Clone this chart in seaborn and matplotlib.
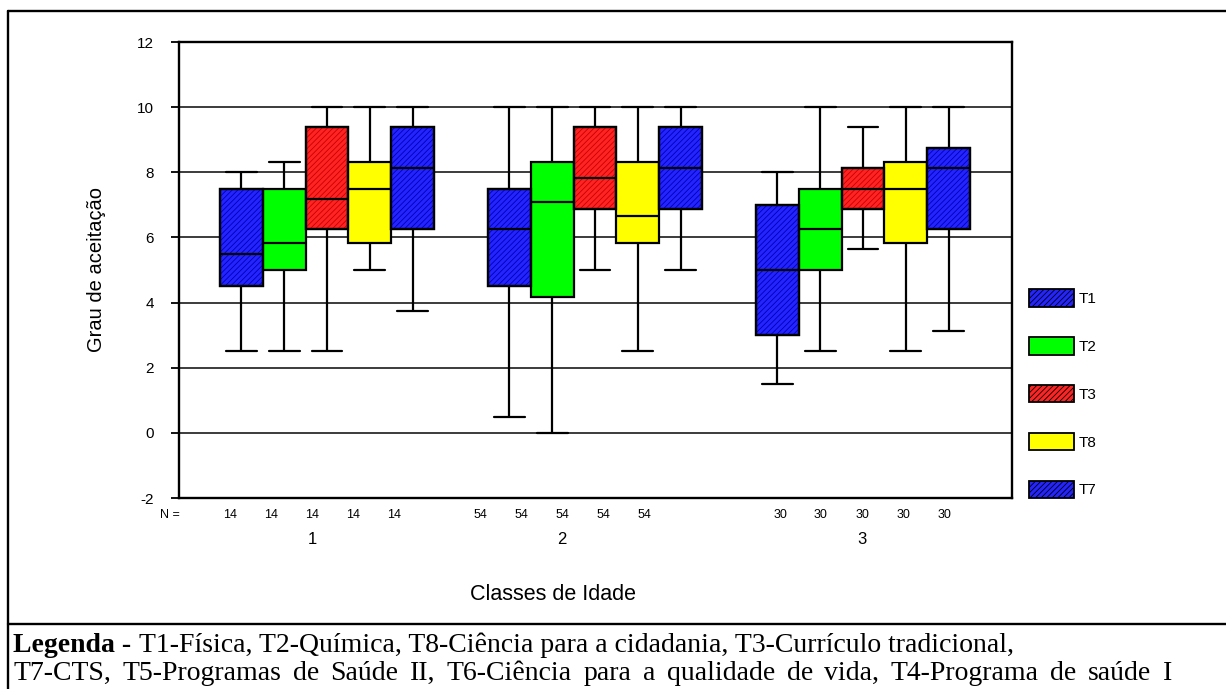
import numpy as np
import pandas as pd
import matplotlib
matplotlib.use("Agg")
import matplotlib.pyplot as plt
import seaborn as sns
from matplotlib.patches import Patch
from matplotlib.lines import Line2D

# ---------------- data ----------------
treatments = ["T1", "T2", "T3", "T8", "T7"]
age_classes = ["1", "2", "3"]
n_counts = [14, 54, 30]

# five-number summaries per treatment, one value per age class
t1_low = [2.5, 0.5, 1.5]
t1_q1 = [4.5, 4.5, 3.0]
t1_med = [5.5, 6.25, 5.0]
t1_q3 = [7.5, 7.5, 7.0]
t1_high = [8.0, 10.0, 8.0]

t2_low = [2.5, 0.0, 2.5]
t2_q1 = [5.0, 4.17, 5.0]
t2_med = [5.83, 7.08, 6.25]
t2_q3 = [7.5, 8.33, 7.5]
t2_high = [8.33, 10.0, 10.0]

t3_low = [2.5, 5.0, 5.63]
t3_q1 = [6.25, 6.88, 6.88]
t3_med = [7.19, 7.81, 7.5]
t3_q3 = [9.38, 9.38, 8.13]
t3_high = [10.0, 10.0, 9.38]

t8_low = [5.0, 2.5, 2.5]
t8_q1 = [5.83, 5.83, 5.83]
t8_med = [7.5, 6.67, 7.5]
t8_q3 = [8.33, 8.33, 8.33]
t8_high = [10.0, 10.0, 10.0]

t7_low = [3.75, 5.0, 3.13]
t7_q1 = [6.25, 6.88, 6.25]
t7_med = [8.13, 8.13, 8.13]
t7_q3 = [9.38, 9.38, 8.75]
t7_high = [10.0, 10.0, 10.0]

y_ticks = [-2, 0, 2, 4, 6, 8, 10, 12]

caption_bold = "Legenda -"
caption_line1 = "T1-Física, T2-Química, T8-Ciência para a cidadania, T3-Currículo tradicional,"
caption_line2 = "T7-CTS, T5-Programas de Saúde II, T6-Ciência para a qualidade de vida, T4-Programa de saúde I"

summaries = {
    "T1": (t1_low, t1_q1, t1_med, t1_q3, t1_high),
    "T2": (t2_low, t2_q1, t2_med, t2_q3, t2_high),
    "T3": (t3_low, t3_q1, t3_med, t3_q3, t3_high),
    "T8": (t8_low, t8_q1, t8_med, t8_q3, t8_high),
    "T7": (t7_low, t7_q1, t7_med, t7_q3, t7_high),
}

rows = []
for t in treatments:
    arrs = summaries[t]
    for ci, c in enumerate(age_classes):
        for a in arrs:
            rows.append({"classe": c, "trat": t, "valor": a[ci]})
df = pd.DataFrame(rows)

# ---------------- style ----------------
face = {"T1": "#2424FF", "T2": "#00FF00", "T3": "#FF2424", "T8": "#FFFF00", "T7": "#2424FF"}
hatch_col = {"T1": "#0000B4", "T3": "#C80000", "T7": "#0000B4"}

sns.set_style("white")
plt.rcParams["font.family"] = ["Liberation Sans", "DejaVu Sans"]
plt.rcParams["hatch.linewidth"] = 0.6
plt.rcParams["text.color"] = "black"
plt.rcParams["axes.labelcolor"] = "black"
plt.rcParams["xtick.color"] = "black"
plt.rcParams["ytick.color"] = "black"

W, H = 1226, 689
fig = plt.figure(figsize=(W / 100, H / 100), dpi=100)


def fx(px):
    return px / W


def fy(py):
    return 1 - py / H


ax = fig.add_axes([fx(179), fy(498), fx(1012) - fx(179), fy(42) - fy(498)])

sns.boxplot(data=df, x="classe", y="valor", hue="trat", order=age_classes,
            hue_order=treatments, palette=face, saturation=1, width=0.8, gap=0,
            whis=(0, 100), linewidth=1.6, linecolor="black", fliersize=0,
            legend=False, ax=ax)

# hatch + cap width adjustments
for t, cont in zip(treatments, ax.containers):
    try:
        boxes = cont.boxes
        caps = cont.caps
    except AttributeError:
        continue
    for b in boxes:
        b.set_zorder(2)
        if t in hatch_col:
            hp = matplotlib.patches.PathPatch(b.get_path(), transform=b.get_transform(),
                                              facecolor="none", edgecolor=hatch_col[t],
                                              linewidth=0, hatch="//////", zorder=2.05)
            ax.add_patch(hp)
            ol = matplotlib.patches.PathPatch(b.get_path(), transform=b.get_transform(),
                                              facecolor="none", edgecolor="black",
                                              linewidth=1.6, zorder=2.1)
            ax.add_patch(ol)
    for cap in caps:
        xd = np.asarray(cap.get_xdata(), dtype=float)
        c = xd.mean()
        half = 0.16 * 0.72 / 2
        cap.set_xdata([c - half, c + half])
    for m in cont.medians:
        m.set_zorder(2.2)

ax.set_xlim(-0.552, 2.556)
ax.set_ylim(-2, 12)
ax.set_yticks(y_ticks)
ax.set_yticklabels([str(v) for v in y_ticks], fontsize=11)
ax.set_xticks([])
ax.set_xlabel("")
ax.set_ylabel("")
ax.yaxis.grid(True, color="#1a1a1a", linewidth=1.2)
ax.set_axisbelow(True)
ax.tick_params(axis="y", direction="out", length=6, width=1.3, pad=12, left=True, colors="black")
for s in ax.spines.values():
    s.set_visible(True)
    s.set_color("black")
    s.set_linewidth(1.7)

# counts and class labels (SPSS-style placement)
label_centers_px = [312, 562, 862]
label_step_px = 41
for ci, c in enumerate(age_classes):
    cpx = label_centers_px[ci]
    for k in range(len(treatments)):
        xpx = cpx + (k - 2) * label_step_px
        fig.text(fx(xpx), fy(515), str(n_counts[ci]), ha="center", va="center", fontsize=9)
    fig.text(fx(cpx), fy(540), c, ha="center", va="center", fontsize=12)
fig.text(fx(170), fy(515), "N =", ha="center", va="center", fontsize=9)

fig.text(fx(553), fy(595), "Classes de Idade", ha="center", va="center", fontsize=15.5)
fig.text(fx(97), fy(270), "Grau de aceitação", ha="center", va="center", rotation=90, fontsize=14.5)

# legend
handles = [Patch(facecolor=face[t], edgecolor="black", linewidth=1.3,
                 hatch=("//////" if t in hatch_col else None)) for t in treatments]
fig.legend(handles, treatments, loc="upper left", bbox_to_anchor=(fx(1029), fy(289)),
           frameon=False, fontsize=11, handlelength=2.95, handleheight=1.4,
           labelspacing=1.98, handletextpad=0.3, borderpad=0, borderaxespad=0)

# outer frame and caption
lw = 1.7
fig.add_artist(Line2D([fx(8), fx(8)], [fy(10.5), fy(700)], color="black", lw=lw))
fig.add_artist(Line2D([fx(8), fx(1240)], [fy(10.5), fy(10.5)], color="black", lw=lw))
fig.add_artist(Line2D([fx(8), fx(1240)], [fy(624), fy(624)], color="black", lw=lw))

cap_font = ["Liberation Serif", "DejaVu Serif"]
cap_size = 20
renderer = fig.canvas.get_renderer()

t_bold = fig.text(fx(13), fy(652), caption_bold, fontsize=cap_size, fontweight="bold",
                  family=cap_font, ha="left", va="baseline")
bb = t_bold.get_window_extent(renderer=renderer)
fig.text((bb.x1 + 8) / W, fy(652), caption_line1, fontsize=cap_size, family=cap_font,
         ha="left", va="baseline")

# second line spread across the caption box
words = caption_line2.split(" ")
wts = []
for wd in words:
    tt = fig.text(0, 0, wd, fontsize=cap_size, family=cap_font)
    wts.append(tt.get_window_extent(renderer=renderer).width)
    tt.remove()
space_w = fig.text(0, 0, "a a", fontsize=cap_size, family=cap_font).get_window_extent(renderer=renderer).width
gap = max((1172 - 13 - sum(wts)) / (len(words) - 1), 5)
xcur = 13
for wd, wdw in zip(words, wts):
    fig.text(fx(xcur), fy(680), wd, fontsize=cap_size, family=cap_font, ha="left", va="baseline")
    xcur += wdw + gap
for tt in list(fig.texts):
    if tt.get_text() == "a a":
        tt.remove()

fig.savefig("out.png", dpi=100)
